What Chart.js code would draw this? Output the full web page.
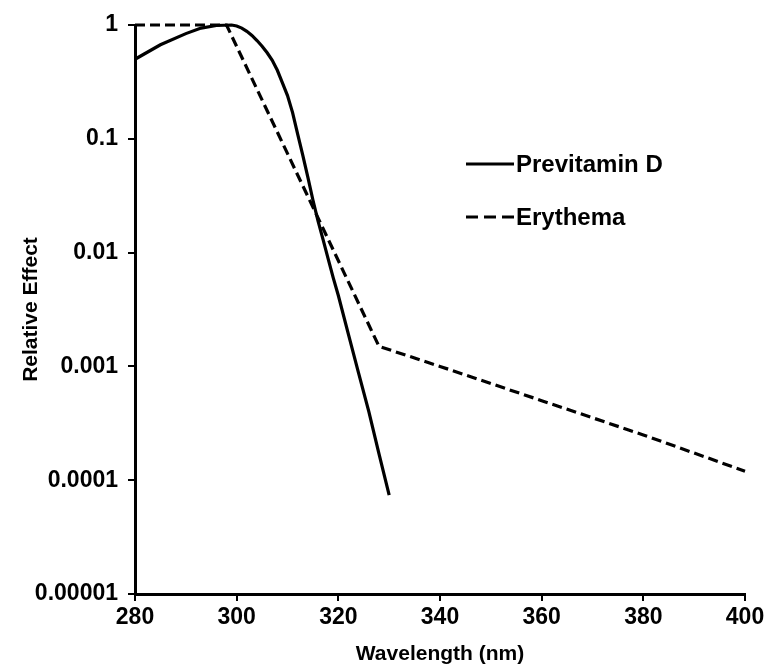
<!DOCTYPE html>
<html>
<head>
<meta charset="utf-8">
<script src="https://cdn.jsdelivr.net/npm/chart.js@4/dist/chart.umd.min.js"></script>
<style>
  body { margin: 0; background: #fff; }
  #wrap { position: relative; width: 768px; height: 670px; }
  .leg { position: absolute; left: 466px; height: 30px; display: flex; align-items: center;
         font: bold 24px "Liberation Sans", Arial, sans-serif; color: #000; }
  .leg svg { margin-right: 2px; }
</style>
</head>
<body>
<div id="wrap">
  <canvas id="ActionSpectraCanvas" width="768" height="670"></canvas>
  <div class="leg" style="top:149px">
    <svg width="48" height="6"><line x1="0" y1="3" x2="48" y2="3" stroke="#000" stroke-width="3"/></svg>Previtamin D
  </div>
  <div class="leg" style="top:202px">
    <svg width="48" height="6"><line x1="0" y1="3" x2="48" y2="3" stroke="#000" stroke-width="3" stroke-dasharray="12 6"/></svg>Erythema
  </div>
</div>
<script>
// values
const vitaminWavelengths = [280, 285, 290, 293, 296, 299, 300, 301, 302, 303, 304, 305, 306, 307, 308, 309, 310, 311, 312, 313, 314, 315, 316, 317, 318, 319, 320, 322, 324, 326, 328, 330];
const vitaminEffect = [0.5, 0.67, 0.84, 0.94, 0.99, 1.0, 0.98, 0.94, 0.88, 0.81, 0.73, 0.65, 0.57, 0.49, 0.40, 0.31, 0.24, 0.17, 0.11, 0.072, 0.046, 0.029, 0.019, 0.013, 0.0088, 0.006, 0.0042, 0.0019, 0.00087, 0.0004, 0.00017, 0.000074];

const erythemaWavelengths = [280, 298, 328, 340, 360, 380, 400];
const erythemaEffect = [1, 1, 0.0015, 0.00100, 0.00050, 0.00025, 0.00012];

const yTickValues = [0.00001, 0.0001, 0.001, 0.01, 0.1, 1];
const yTickLabels = ['0.00001', '0.0001', '0.001', '0.01', '0.1', '1'];

const FONT = '"Liberation Sans", Arial, sans-serif';

function toPoints(xs, ys) {
    return xs.map((x, i) => ({x: x, y: ys[i]}));
}

new Chart(document.getElementById("ActionSpectraCanvas").getContext("2d"), {
    type: 'line',
    data: {
        datasets: [
            {
                label: 'Previtamin D',
                data: toPoints(vitaminWavelengths, vitaminEffect),
                borderColor: '#000',
                borderWidth: 3.2,
                pointRadius: 0,
                tension: 0,
                clip: false
            },
            {
                label: 'Erythema',
                data: toPoints(erythemaWavelengths, erythemaEffect),
                borderColor: '#000',
                borderWidth: 3.2,
                borderDash: [10, 5],
                pointRadius: 0,
                tension: 0,
                clip: false
            }
        ]
    },
    options: {
        responsive: false,
        animation: false,
        layout: {
            padding: {left: 0, top: 25, right: 23, bottom: 0}
        },
        plugins: {
            legend: {display: false},
            tooltip: {enabled: false}
        },
        scales: {
            x: {
                type: 'linear',
                min: 280,
                max: 400,
                afterFit: scale => { scale.height = 76; },
                border: {display: true, color: '#000', width: 3},
                grid: {drawOnChartArea: false, drawTicks: true, tickLength: 7, color: '#000', lineWidth: 2},
                ticks: {
                    stepSize: 20,
                    padding: 3,
                    color: '#000',
                    font: {family: FONT, size: 23, weight: 'bold'}
                },
                title: {
                    display: true,
                    text: 'Wavelength (nm)',
                    color: '#000',
                    font: {family: FONT, size: 21, weight: 'bold'},
                    padding: {top: 0, bottom: 3}
                }
            },
            y: {
                type: 'logarithmic',
                min: 0.00001,
                max: 1,
                afterFit: scale => { scale.width = 135; },
                afterBuildTicks: scale => {
                    scale.ticks = yTickValues.map(v => ({value: v}));
                },
                border: {display: true, color: '#000', width: 3},
                grid: {drawOnChartArea: false, drawTicks: true, tickLength: 7, color: '#000', lineWidth: 2},
                ticks: {
                    padding: 10,
                    color: '#000',
                    font: {family: FONT, size: 23, weight: 'bold'},
                    callback: value => yTickLabels[yTickValues.indexOf(value)]
                },
                title: {
                    display: true,
                    text: 'Relative Effect',
                    color: '#000',
                    font: {family: FONT, size: 21, weight: 'bold'},
                    padding: {top: 19, bottom: 0}
                }
            }
        }
    }
});
</script>
</body>
</html>
